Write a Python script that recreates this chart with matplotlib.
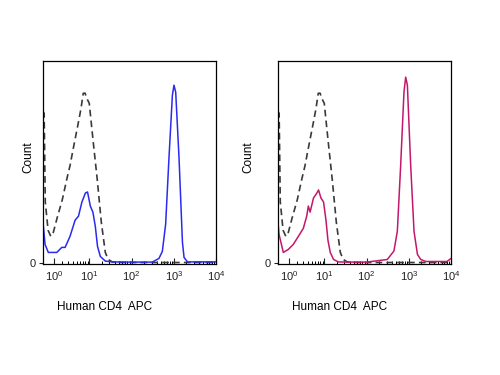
import matplotlib
matplotlib.use("Agg")
import matplotlib.pyplot as plt

plt.rcParams['font.family'] = ['Liberation Sans', 'DejaVu Sans']
plt.rcParams['mathtext.fontset'] = 'custom'
plt.rcParams['mathtext.rm'] = 'Liberation Sans'
plt.rcParams['mathtext.it'] = 'Liberation Sans'

# ---- data (fluorescence intensity vs. relative count) ----
iso_x = [0, 0.1, 0.2, 0.45, 0.7, 0.9, 1.35, 2.0, 2.76, 3.3, 3.96, 5.33, 6.2, 7.1,
         7.9, 8.4, 9.9, 12.3, 15.4, 19.2, 23.9, 28, 35, 60, 10000]
iso_y = [75, 74, 30, 16, 13, 14, 22, 31, 42, 48, 56, 69, 76, 84,
         84, 82, 79, 60, 41, 20, 5, 1.5, 0.3, 0, 0]

blue_x = [0, 0.18, 0.47, 0.95, 1.32, 1.94, 2.43, 3.31, 4.47, 5.42, 6.58, 8.0, 9.0,
          10.5, 12.1, 13.8, 15.6, 18.2, 23.9, 35, 100, 310, 445, 536, 642, 770,
          927, 1012, 1111, 1331, 1605, 1752, 2110, 10000]
blue_y = [20, 9, 5, 5, 5, 7.5, 7.5, 13, 21, 23, 30, 34.5, 35,
          28, 25, 18, 8, 3, 0.7, 0.3, 0.2, 0.2, 2, 5.5, 19, 52,
          83, 88, 84.5, 52, 10, 2.5, 0.3, 0.3]

mag_x = [0, 0.09, 0.47, 0.95, 1.5, 2.17, 2.99, 3.66, 4.03, 4.47, 5.42, 6.58, 7.21,
         8.25, 9.53, 10.88, 12.14, 13.79, 16.5, 21.4, 35, 100, 310, 445, 536, 642,
         770, 845, 927, 1111, 1331, 1605, 1922, 2528, 8000, 10000]
mag_y = [20, 14, 5, 6.5, 9, 13, 17, 23, 28, 25, 32, 34.5, 36,
         32, 30, 21, 11, 5, 1.5, 0.3, 0.2, 0.2, 1.5, 5.7, 15.5, 48,
         84.6, 92, 88, 48, 15.5, 4, 1.5, 0.5, 0.5, 2]

tick_vals = [1, 10, 100, 1000, 10000]
tick_labels = [r'$10^{0}$', r'$10^{1}$', r'$10^{2}$', r'$10^{3}$', r'$10^{4}$']
minor_vals = [k * 10 ** n for n in range(0, 4) for k in range(2, 10)]

fig = plt.figure(figsize=(5, 3.75), dpi=100)
ax1 = fig.add_axes([0.086, 0.2973, 0.346, 0.54])
ax2 = fig.add_axes([0.556, 0.2973, 0.346, 0.54])

panels = [(ax1, blue_x, blue_y, '#2a2af0', -0.087),
          (ax2, mag_x, mag_y, '#c4176c', -0.173)]

for ax, sx, sy, col, ylab_x in panels:
    ax.set_xscale('asinh', linear_width=1.6)
    ax.plot(iso_x, iso_y, color='#3a3a3a', lw=1.2, linestyle=(0, (4, 2.5)))
    ax.plot(sx, sy, color=col, lw=1.1)
    ax.set_xlim(0, 10000)
    ax.set_ylim(-0.5, 100)
    ax.set_xticks(tick_vals, labels=tick_labels)
    ax.set_xticks(minor_vals, minor=True)
    ax.tick_params(axis='x', which='major', direction='in', length=4, width=0.8,
                   pad=4, labelsize=8, colors='#222222')
    ax.tick_params(axis='x', which='minor', direction='in', length=2.5, width=0.7)
    ax.set_yticks([0], labels=['0'])
    ax.tick_params(axis='y', direction='out', length=3, width=0.8, pad=2,
                   labelsize=8, colors='#222222')
    for sp in ax.spines.values():
        sp.set_linewidth(0.9)
        sp.set_color('black')
    ax.set_xlabel('Human CD4  APC', fontsize=8.5)
    ax.xaxis.set_label_coords(0.355, -0.213)
    ax.xaxis.label.set_va('center')
    ax.set_ylabel('Count', fontsize=8.5)
    ax.yaxis.set_label_coords(ylab_x, 0.525)
    ax.yaxis.label.set_va('center')

fig.savefig('out.png', dpi=100)
